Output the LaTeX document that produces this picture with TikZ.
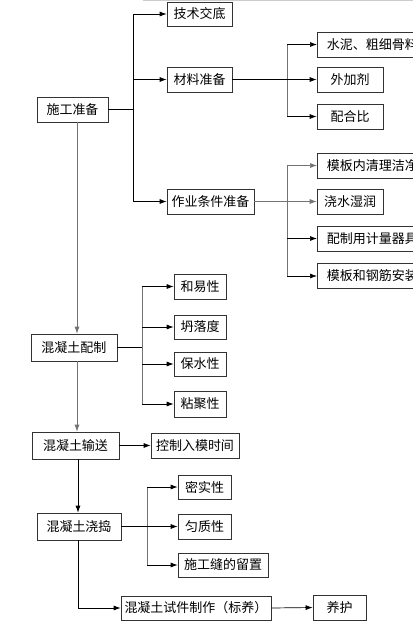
\documentclass[tikz,border=0pt]{standalone}
\usepackage{fontspec}
\newfontfamily\cjk{Noto Sans CJK SC}
\usetikzlibrary{arrows.meta}
\begin{document}
\begin{tikzpicture}[x=1pt,y=-1pt,
  box/.style={draw=black!80,line width=0.7pt,font=\cjk\fontsize{13}{13}\selectfont,inner sep=0pt,minimum height=25pt,text=black},
  lbox/.style={box,anchor=west,inner xsep=7pt},
  hl/.style={draw=black,line width=0.7pt},
  vl/.style={draw=black!55,line width=0.7pt},
  arr/.style={hl,-{Latex[length=7pt,width=5pt]}}
]
\useasboundingbox (0,0) rectangle (413,625);
\clip (0,0) rectangle (413,625);
\fill[white] (0,0) rectangle (413,625);
\draw[black!20,line width=0.8pt] (143,0.5) -- (413,0.5);

% nodes
\node[box,minimum width=71pt] (sg) at (72.5,109.5) {施工准备};
\node[box,minimum width=65pt,minimum height=24pt] (js) at (199.5,14) {技术交底};
\node[box,minimum width=65pt] (cl) at (199.5,79.5) {材料准备};
\node[box,minimum width=87pt] (zy) at (210.5,201.5) {作业条件准备};
\node[lbox,minimum width=110pt] (sn) at (317,44.5) {水泥、粗细骨料};
\node[box,minimum width=66pt] (wj) at (350,79.5) {外加剂};
\node[box,minimum width=66pt] (ph) at (350,116.5) {配合比};
\node[lbox,minimum width=110pt] (mb) at (317,165.5) {模板内清理洁净};
\node[box,minimum width=66pt] (js2) at (350,201.5) {浇水湿润};
\node[lbox,minimum width=110pt] (pz) at (317,238.5) {配制用计量器具};
\node[lbox,minimum width=110pt] (mg) at (317,276) {模板和钢筋安装};

\node[box,minimum width=86pt,minimum height=27pt] (pz2) at (74,347.5) {混凝土配制};
\node[box,minimum width=52pt] (hy) at (200,286.5) {和易性};
\node[box,minimum width=52pt,minimum height=24pt] (tl) at (200,327) {坍落度};
\node[box,minimum width=52pt,minimum height=24pt] (bs) at (200,364) {保水性};
\node[box,minimum width=52pt,minimum height=26pt] (nj) at (200,404) {粘聚性};

\node[box,minimum width=87pt,minimum height=27pt] (ss) at (75.5,445.5) {混凝土输送};
\node[box,minimum width=88pt] (kz) at (195,445.5) {控制入模时间};

\node[box,minimum width=84pt,minimum height=27pt] (jd) at (79,526.5) {混凝土浇捣};
\node[box,minimum width=53pt,minimum height=24pt] (ms) at (204.5,487) {密实性};
\node[box,minimum width=53pt] (yz) at (204.5,526.5) {匀质性};
\node[box,minimum width=90pt,minimum height=24pt] (sgf) at (223,565) {施工缝的留置};

\node[box,minimum width=150pt,minimum height=24pt] (sj) at (196,608) {混凝土试件制作（标养）};
\node[box,minimum width=53pt] (yh) at (339.5,607.5) {养护};

% helper coordinates
\coordinate (t1) at (77,0);
\coordinate (t2) at (78,0);
\coordinate (b1) at (133,0);
\coordinate (b2) at (287,0);
\coordinate (b3) at (142,0);
\coordinate (b4) at (147,0);
\coordinate (c1) at (0,608);

% 施工准备 branch
\draw[hl] (sg.east) -- (sg.east -| b1);
\draw[hl] (js.west -| b1) -- (zy.west -| b1);
\draw[arr] (js.west -| b1) -- (js.west);
\draw[arr] (cl.west -| b1) -- (cl.west);
\draw[arr] (zy.west -| b1) -- (zy.west);

% 材料准备 branch
\draw[vl] (sn.west -| b2) -- (ph.west -| b2);
\draw[arr] (cl.east) -- (wj.west);
\draw[arr] (sn.west -| b2) -- (sn.west);
\draw[arr] (ph.west -| b2) -- (ph.west);

% 作业条件准备 branch
\draw[vl] (mb.west -| b2) -- (mg.west -| b2);
\draw[arr,draw=black!55] (zy.east) -- (js2.west);
\draw[arr,draw=black!55] (mb.west -| b2) -- (mb.west);
\draw[arr] (pz.west -| b2) -- (pz.west);
\draw[arr] (mg.west -| b2) -- (mg.west);

% main trunk
\draw[arr,draw=black!55] (sg.south -| t1) -- (pz2.north -| t1);
\draw[arr,draw=black!55] (pz2.south -| t1) -- (ss.north -| t1);
\draw[arr] (ss.south -| t2) -- (jd.north -| t2);

% 混凝土配制 branch
\draw[hl] (pz2.east) -- (pz2.east -| b3);
\draw[vl] (hy.west -| b3) -- (nj.west -| b3);
\draw[arr] (hy.west -| b3) -- (hy.west);
\draw[arr] (tl.west -| b3) -- (tl.west);
\draw[arr] (bs.west -| b3) -- (bs.west);
\draw[arr] (nj.west -| b3) -- (nj.west);

% 混凝土输送
\draw[arr] (ss.east) -- (kz.west);

% 混凝土浇捣 branch
\draw[vl] (ms.west -| b4) -- (sgf.west -| b4);
\draw[arr] (jd.east) -- (yz.west);
\draw[arr] (ms.west -| b4) -- (ms.west);
\draw[arr] (sgf.west -| b4) -- (sgf.west);

% 试件
\draw[arr] (jd.south -| t2) -- (c1 -| t2) -- (sj.west);
\draw[arr] (sj.east) -- (yh.west);
\end{tikzpicture}
\end{document}
